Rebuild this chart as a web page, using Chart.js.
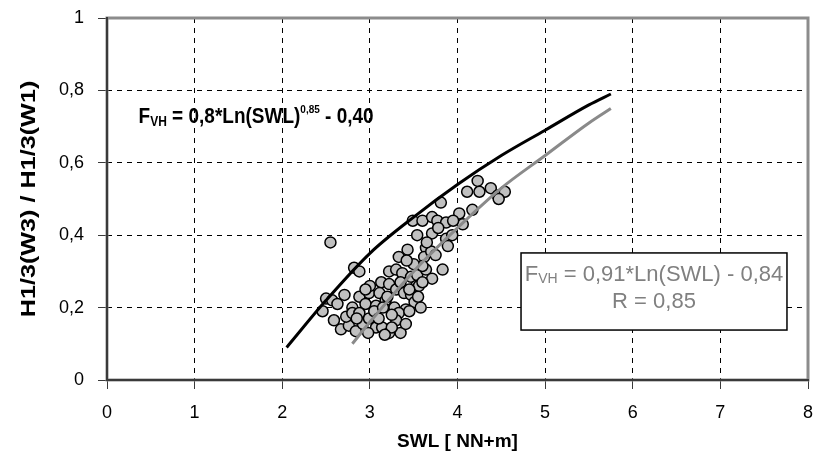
<!DOCTYPE html>
<html>
<head>
<meta charset="utf-8">
<script src="https://cdn.jsdelivr.net/npm/chart.js@4.4.1/dist/chart.umd.min.js"></script>
<style>
  body { margin: 0; background: #fff; }
</style>
</head>
<body>
<canvas id="myChart" width="815" height="462"></canvas>
<script>
// measured points: SWL [NN+m] and H1/3(W3)/H1/3(W1)
const swlObs = [4.23, 4.11, 4.25, 4.38, 4.46, 4.54, 4.47, 3.81, 4.17, 4.02, 4.06,
  3.49, 3.60, 3.71, 3.77, 3.87, 3.95, 2.55, 3.54, 3.71, 3.87, 3.94, 3.89,
  3.43, 3.33, 3.64, 3.62, 3.70, 3.75, 2.82, 2.88, 3.22, 3.30, 3.37, 3.47, 3.54, 3.64, 3.83, 3.71, 3.53, 3.60,
  2.50, 2.57, 2.71, 2.88, 2.99, 3.13, 3.11, 3.22, 3.30, 3.39, 3.47, 3.56, 3.51, 3.58,
  2.46, 2.63, 2.80, 2.95, 3.07, 3.18, 3.28, 3.41, 3.33,
  2.59, 2.67, 2.76, 2.84, 2.92, 2.99, 3.07, 3.14, 3.22, 3.30, 3.35, 3.41,
  2.73, 2.80, 2.88, 3.05, 3.15, 3.25, 3.20, 3.45, 3.35, 3.00, 2.95, 2.85, 3.10,
  3.60, 3.50, 3.42, 3.65, 3.78, 3.25, 3.17, 2.98, 3.45, 3.55];
const fvhObs = [0.55, 0.52, 0.52, 0.53, 0.51, 0.52, 0.50, 0.49, 0.47, 0.46, 0.43,
  0.44, 0.44, 0.45, 0.44, 0.435, 0.44, 0.38, 0.40, 0.405, 0.39, 0.40, 0.37,
  0.36, 0.34, 0.365, 0.34, 0.355, 0.345, 0.31, 0.30, 0.30, 0.305, 0.295, 0.285, 0.29, 0.305, 0.305, 0.28, 0.26, 0.315,
  0.225, 0.22, 0.235, 0.23, 0.24, 0.27, 0.24, 0.265, 0.25, 0.24, 0.235, 0.26, 0.215, 0.20,
  0.19, 0.21, 0.20, 0.21, 0.205, 0.22, 0.20, 0.195, 0.185,
  0.165, 0.14, 0.15, 0.135, 0.155, 0.17, 0.145, 0.145, 0.13, 0.165, 0.13, 0.155,
  0.175, 0.185, 0.185, 0.19, 0.20, 0.18, 0.23, 0.25, 0.27, 0.26, 0.25, 0.17, 0.17,
  0.27, 0.32, 0.33, 0.38, 0.42, 0.145, 0.125, 0.13, 0.19, 0.23];

// upper envelope F_VH = 0,8*Ln(SWL)^0,85 - 0,40 (black)
const envSwl = [2.05, 2.5, 3, 3.5, 4, 4.5, 5, 5.5, 5.75];
const envFvh = [0.09, 0.22, 0.35, 0.45, 0.54, 0.62, 0.69, 0.76, 0.79];
// regression F_VH = 0,91*Ln(SWL) - 0,84 (grey)
const regSwl = [2.8, 3, 3.5, 4, 4.5, 5, 5.5, 5.75];
const regFvh = [0.10, 0.16, 0.30, 0.42, 0.53, 0.62, 0.71, 0.75];

const xTickLabels = ['0', '1', '2', '3', '4', '5', '6', '7', '8'];
const yTickLabels = ['0', '0,2', '0,4', '0,6', '0,8', '1'];
const xTitle = 'SWL [ NN+m]';
const yTitle = 'H1/3(W3) / H1/3(W1)';
const regText = ['F', 'VH', ' = 0,91*Ln(SWL) - 0,84', 'R = 0,85'];
const envText = ['F', 'VH', ' = 0,8*Ln(SWL)', '0,85', ' - 0,40'];

const FONT = '"Liberation Sans", Arial, sans-serif';

function pts(xs, ys) {
    return xs.map((v, i) => ({x: v, y: ys[i]}));
}

// draws text pieces one after the other: [text, size, dy, weight], stretched by sy
function drawRuns(ctx, x, y, runs, sy) {
    ctx.save();
    ctx.translate(x, y);
    ctx.scale(1, sy || 1);
    let dx = 0;
    runs.forEach(r => {
        ctx.font = (r[3] || '') + ' ' + r[1] + 'px ' + FONT;
        ctx.fillText(r[0], dx, r[2]);
        dx += ctx.measureText(r[0]).width;
    });
    ctx.restore();
}

const extras = {
    id: 'extras',
    afterDraw(chart) {
        const {ctx, chartArea: a, scales: {x, y}} = chart;
        ctx.save();
        // plot frame
        ctx.strokeStyle = '#8c8c8c';
        ctx.lineWidth = 3;
        ctx.strokeRect(a.left, a.top, a.right - a.left, a.bottom - a.top);
        ctx.strokeStyle = '#3a3a3a';
        ctx.lineWidth = 2;
        ctx.beginPath();
        ctx.moveTo(a.left, a.top - 1);
        ctx.lineTo(a.left, a.bottom);
        ctx.lineTo(a.right + 1, a.bottom);
        ctx.stroke();

        // black equation
        ctx.fillStyle = '#000';
        ctx.textBaseline = 'alphabetic';
        ctx.textAlign = 'left';
        drawRuns(ctx, x.getPixelForValue(0.36), y.getPixelForValue(0.71), [
            [envText[0], 19, 0, 'bold'],
            [envText[1], 12, 2.5, 'bold'],
            [envText[2], 19, 0, 'bold'],
            [envText[3], 10, -9, 'bold'],
            [envText[4], 19, 0, 'bold']
        ], 1.15);

        // regression text box
        const bx1 = x.getPixelForValue(4.725), bx2 = x.getPixelForValue(7.76);
        const by1 = y.getPixelForValue(0.351), by2 = y.getPixelForValue(0.138);
        ctx.fillStyle = '#fff';
        ctx.fillRect(bx1, by1, bx2 - bx1, by2 - by1);
        ctx.strokeStyle = '#000';
        ctx.lineWidth = 1.5;
        ctx.strokeRect(bx1, by1, bx2 - bx1, by2 - by1);
        ctx.fillStyle = '#808080';
        const runs = [[regText[0], 22, 0], [regText[1], 14, 2], [regText[2], 22, 0]];
        let w = 0;
        runs.forEach(r => { ctx.font = r[1] + 'px ' + FONT; w += ctx.measureText(r[0]).width; });
        const cx = (bx1 + bx2) / 2;
        drawRuns(ctx, cx - w / 2, y.getPixelForValue(0.273), runs);
        ctx.font = '22px ' + FONT;
        ctx.textAlign = 'center';
        ctx.fillText(regText[3], cx, y.getPixelForValue(0.199));

        // y axis title (stretched like the original)
        ctx.fillStyle = '#000';
        ctx.translate(29, (a.top + a.bottom) / 2);
        ctx.rotate(-Math.PI / 2);
        ctx.scale(1.2, 1);
        ctx.font = 'bold 21px ' + FONT;
        ctx.textBaseline = 'middle';
        ctx.fillText(yTitle, 0, 0);
        ctx.restore();
    }
};

const ctx = document.getElementById('myChart').getContext('2d');
const myChart = new Chart(ctx, {
    type: 'scatter',
    data: {
        datasets: [{
            label: 'envelope',
            data: pts(envSwl, envFvh),
            showLine: true,
            borderColor: '#000',
            borderWidth: 3,
            pointRadius: 0,
            cubicInterpolationMode: 'monotone'
        }, {
            label: 'regression',
            data: pts(regSwl, regFvh),
            showLine: true,
            borderColor: '#8a8a8a',
            borderWidth: 3,
            pointRadius: 0,
            cubicInterpolationMode: 'monotone'
        }, {
            label: 'measured',
            data: pts(swlObs, fvhObs),
            backgroundColor: '#c0c0c0',
            borderColor: '#000',
            borderWidth: 1.5,
            pointRadius: 5.5
        }]
    },
    plugins: [extras],
    options: {
        responsive: false,
        animation: false,
        layout: { padding: { top: 18, right: 6, left: 0, bottom: 0 } },
        plugins: {
            legend: { display: false },
            tooltip: { enabled: false }
        },
        scales: {
            x: {
                min: 0,
                max: 8,
                afterFit(scale) {
                    scale.height = 82;
                    scale.paddingLeft = 0;
                    scale.paddingRight = 0;
                },
                ticks: {
                    stepSize: 1,
                    padding: 13,
                    color: '#000',
                    font: { family: FONT, size: 18 },
                    maxRotation: 0,
                    callback: (v, i) => xTickLabels[i]
                },
                grid: { color: '#000', lineWidth: 1, tickLength: 9, tickColor: '#3a3a3a', tickWidth: 1 },
                border: { display: false, dash: [5, 5] },
                title: {
                    display: true,
                    text: xTitle,
                    color: '#000',
                    font: { family: FONT, size: 19, weight: 'bold' },
                    padding: { top: 9, bottom: 9 }
                }
            },
            y: {
                min: 0,
                max: 1,
                afterFit(scale) {
                    scale.width = 107;
                    scale.paddingTop = 0;
                    scale.paddingBottom = 0;
                },
                ticks: {
                    stepSize: 0.2,
                    padding: 14,
                    color: '#000',
                    font: { family: FONT, size: 18 },
                    callback: (v, i) => yTickLabels[i]
                },
                grid: { color: '#000', lineWidth: 1, tickLength: 9, tickColor: '#3a3a3a', tickWidth: 1 },
                border: { display: false, dash: [5, 5] }
            }
        }
    }
});
</script>
</body>
</html>
